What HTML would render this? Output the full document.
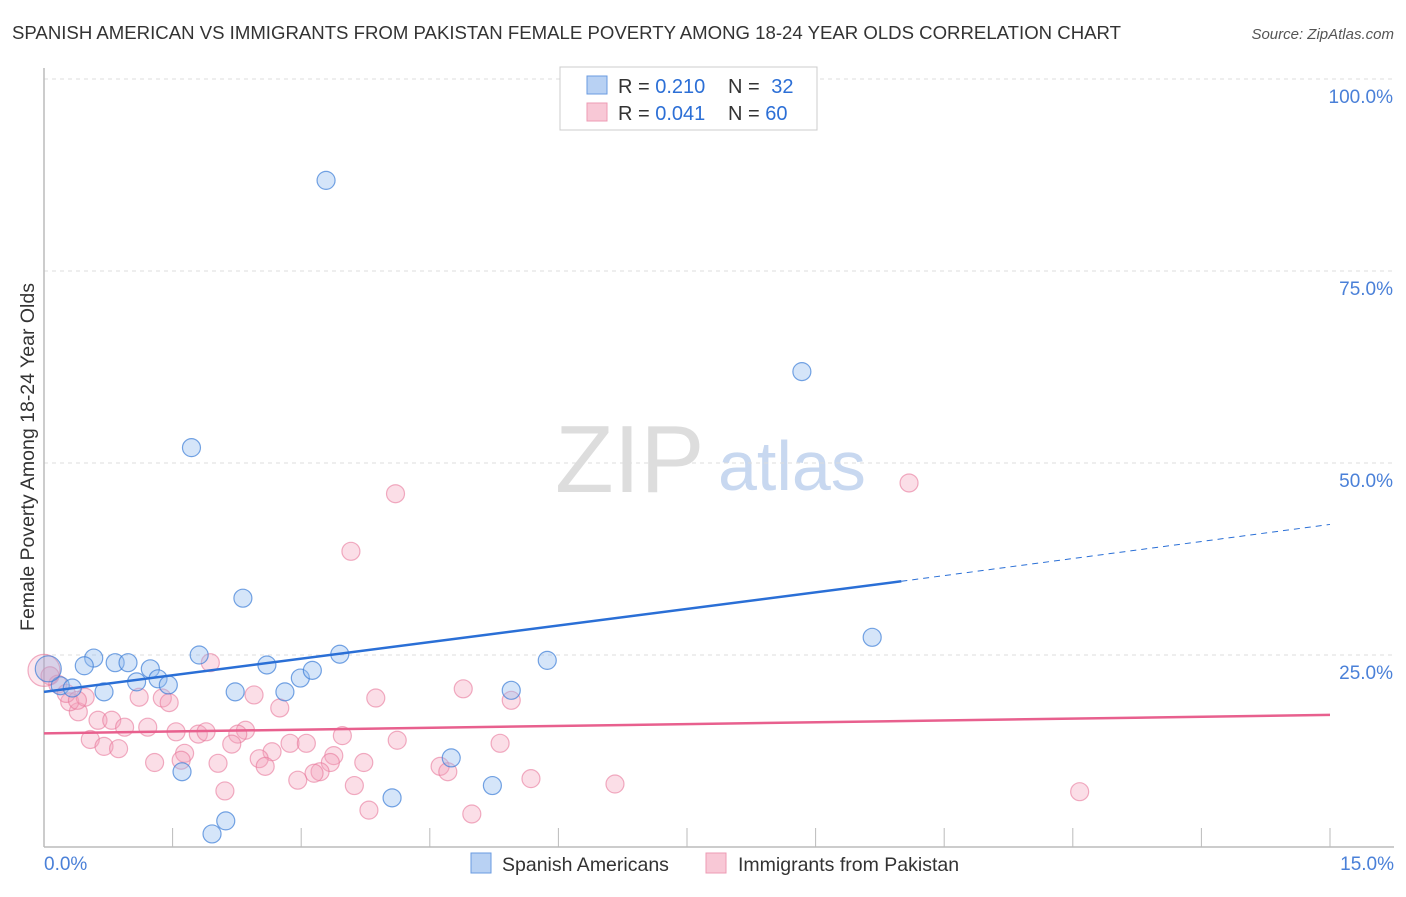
<!DOCTYPE html>
<html><head><meta charset="utf-8"><style>
body{margin:0;background:#fff;font-family:"Liberation Sans",sans-serif}
svg text{font-family:"Liberation Sans",sans-serif}
</style></head><body>
<svg id="c" width="1406" height="892">
<text x="12" y="39" font-size="18.6" fill="#333">SPANISH AMERICAN VS IMMIGRANTS FROM PAKISTAN FEMALE POVERTY AMONG 18-24 YEAR OLDS CORRELATION CHART</text>
<text x="1394" y="39" font-size="15" fill="#555" font-style="italic" text-anchor="end">Source: ZipAtlas.com</text>
<text x="34" y="457" font-size="19.5" fill="#333" text-anchor="middle" transform="rotate(-90 34 457)">Female Poverty Among 18-24 Year Olds</text>
<text x="555" y="492" font-size="96" fill="#ddd" font-family="Liberation Serif">ZIP</text>
<text x="718" y="490" font-size="70" fill="#c8d8f0">atlas</text>
<g id="grid"></g><g id="marks"></g>
<g>
<rect x="560" y="67" width="257" height="63" fill="#fff" stroke="#ccc"/>
<rect x="587" y="76" width="20" height="18" fill="#b8d1f3" stroke="#6a9be0"/>
<rect x="587" y="103" width="20" height="18" fill="#f8c8d6" stroke="#ee9bb4"/>
<text x="618" y="93" font-size="20" fill="#333">R = <tspan fill="#2c6fd6">0.210</tspan></text>
<text x="728" y="93" font-size="20" fill="#333">N = <tspan fill="#2c6fd6" dx="6">32</tspan></text>
<text x="618" y="120" font-size="20" fill="#333">R = <tspan fill="#2c6fd6">0.041</tspan></text>
<text x="728" y="120" font-size="20" fill="#333">N = <tspan fill="#2c6fd6">60</tspan></text>
</g>
<g>
<rect x="471" y="853" width="20" height="20" fill="#b8d1f3" stroke="#6a9be0"/>
<text x="502" y="871" font-size="19.5" fill="#333">Spanish Americans</text>
<rect x="706" y="853" width="20" height="20" fill="#f8c8d6" stroke="#ee9bb4"/>
<text x="738" y="871" font-size="19.5" fill="#333">Immigrants from Pakistan</text>
</g>
</svg>
<script>
const xTicks=[0,15];
const yTicks=[25,50,75,100];
const blueX=[3.29,8.84,1.72,2.32,9.66,5.87,3.45,0.58,0.47,0.83,0.98,1.24,1.81,2.6,1.08,1.33,1.45,0.19,0.33,0.70,2.23,2.81,2.99,3.13,5.45,4.75,1.61,5.23,4.06,2.12,1.96,0.05];
const blueY=[86.8,61.9,52.0,32.4,27.3,24.3,25.1,24.6,23.6,24.0,24.0,23.2,25.0,23.7,21.5,21.9,21.1,21.0,20.7,20.2,20.2,20.2,22.0,23.0,20.4,11.6,9.8,8.0,6.4,3.4,1.7,23.2];
const pinkX=[4.1,10.09,3.58,1.94,4.89,3.87,5.45,2.75,2.45,1.11,1.38,1.46,0.40,0.30,0.48,0.63,0.79,0.94,1.21,1.54,1.80,1.89,2.35,2.26,2.19,0.54,0.70,0.87,1.64,2.66,2.87,3.06,3.38,3.48,4.12,5.32,1.29,1.60,2.03,2.51,2.58,3.34,3.73,4.62,4.71,3.22,3.15,2.96,3.62,5.68,6.66,2.11,3.79,4.99,12.08,0.16,0.07,0.26,0.39,0.0];
const pinkY=[46.0,47.4,38.5,24.0,20.6,19.4,19.1,18.1,19.8,19.5,19.4,18.8,17.6,18.9,19.5,16.5,16.5,15.6,15.6,15.0,14.7,15.0,15.2,14.7,13.4,14.0,13.1,12.8,12.2,12.4,13.5,13.5,11.9,14.5,13.9,13.5,11.0,11.3,10.9,11.5,10.5,11.0,11.0,10.5,9.8,9.8,9.6,8.7,8.0,8.9,8.2,7.3,4.8,4.3,7.2,21.2,22.3,20.0,19.1,23.0];
const blueTrend=[20.2,34.6,42.0];
const pinkTrend=[14.8,17.2];
const NS="http://www.w3.org/2000/svg";
const X=v=>44+v/15*1286, Y=v=>847-v/100*768;
const g=document.getElementById('grid'), m=document.getElementById('marks');
function el(t,a,p){const e=document.createElementNS(NS,t);for(const k in a)e.setAttribute(k,a[k]);p.appendChild(e);return e;}
yTicks.forEach(v=>{
 const l=el('line',{x1:44,x2:1394,y1:Y(v),y2:Y(v),stroke:'#ddd','stroke-dasharray':'4 4'},g);
 
 
 const t=el('text',{x:1393,y:Y(v)+24,'font-size':19,fill:'#4a80d8','text-anchor':'end'},g);t.textContent=v.toFixed(1)+'%';
 
 
});
el('line',{x1:44,x2:44,y1:68,y2:847,stroke:'#bbb','stroke-width':1.5},g);
el('line',{x1:44,x2:1394,y1:847,y2:847,stroke:'#bbb','stroke-width':1.5},g);
for(let i=1;i<=10;i++){el('line',{x1:X(i*1.5),x2:X(i*1.5),y1:828,y2:847,stroke:'#bbb'},g);}
xTicks.forEach((v,i)=>{const t=el('text',{x:i?1394:44,y:870,'font-size':19,fill:'#4a80d8','text-anchor':i?'end':'start'},g);t.textContent=v.toFixed(1)+'%';
 
 });
pinkX.forEach((x,i)=>{const big=i==pinkX.length-1;const c=el('circle',{cx:X(x),cy:Y(pinkY[i]),r:big?16:9,fill:big?'rgba(244,160,186,0.25)':'rgba(244,160,186,0.35)',stroke:'rgba(232,120,155,0.6)','stroke-width':1.2},m);
 
 });
blueX.forEach((x,i)=>{const big=i==blueX.length-1;const c=el('circle',{cx:X(x),cy:Y(blueY[i]),r:big?13:9,fill:big?'rgba(150,170,220,0.35)':'rgba(150,190,240,0.4)',stroke:'rgba(60,125,215,0.7)','stroke-width':1.2},m);
 
 });
let b=el('line',{x1:X(0),y1:Y(blueTrend[0]),x2:X(10),y2:Y(blueTrend[1]),stroke:'#2a6fd6','stroke-width':2.5},m);


let bd=el('line',{x1:X(10),y1:Y(blueTrend[1]),x2:X(15),y2:Y(blueTrend[2]),stroke:'#2a6fd6','stroke-width':1,'stroke-dasharray':'6 5'},m);


let p=el('line',{x1:X(0),y1:Y(pinkTrend[0]),x2:X(15),y2:Y(pinkTrend[1]),stroke:'#e8608e','stroke-width':2.5},m);


</script>
</body></html>
